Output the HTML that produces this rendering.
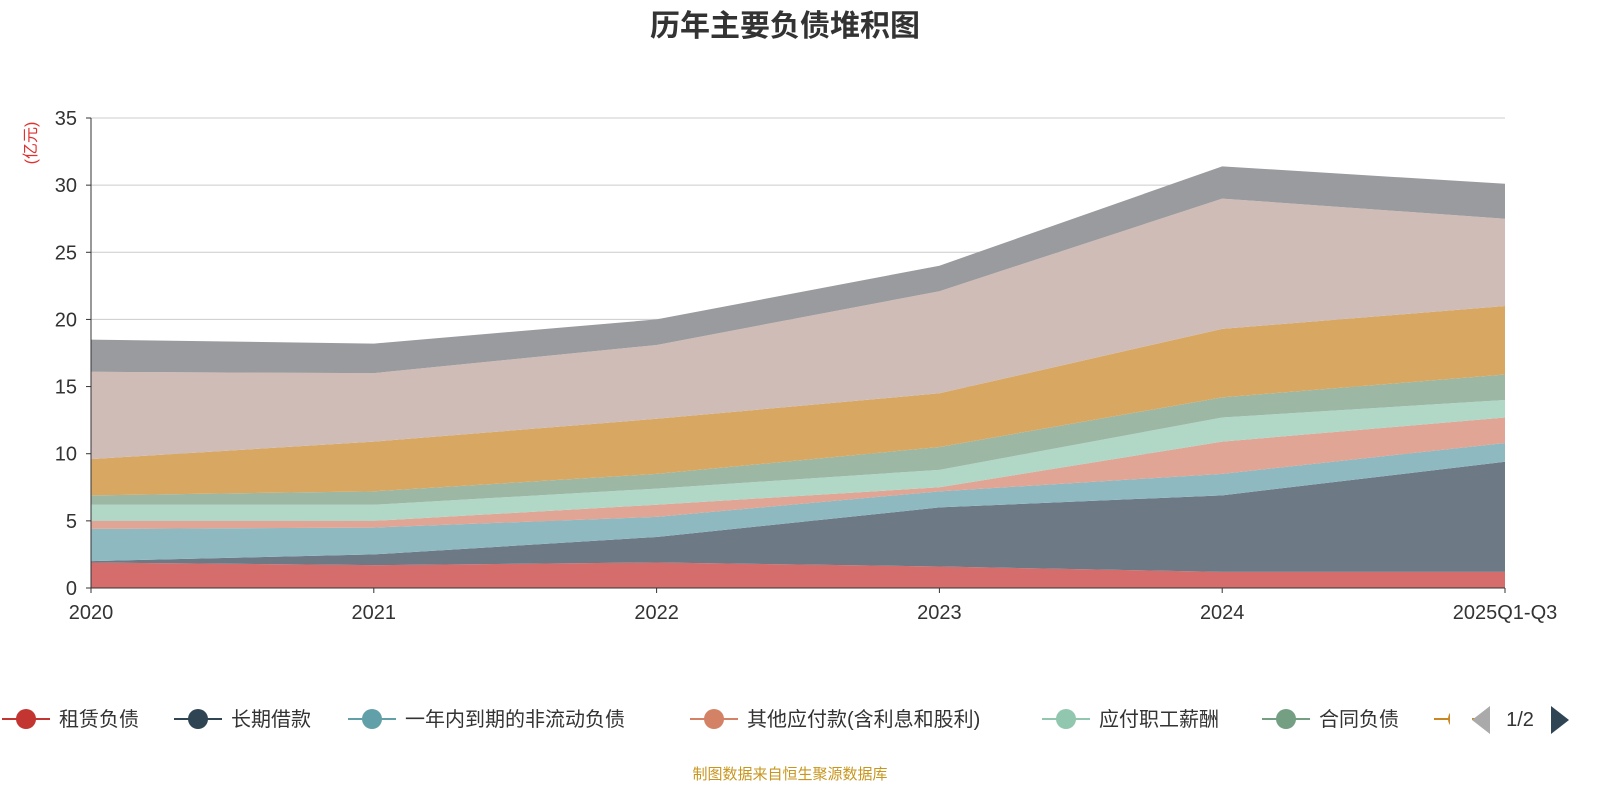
<!DOCTYPE html>
<html><head><meta charset="utf-8"><style>
body{margin:0;background:#fff;width:1600px;height:800px;overflow:hidden;font-family:"Liberation Sans","Noto Sans CJK SC",sans-serif}
</style></head><body>
<svg id="c" width="1600" height="800" xmlns="http://www.w3.org/2000/svg">
<text x="785" y="36" text-anchor="middle" font-size="30" font-weight="bold" fill="#333" font-family="Liberation Sans,Noto Sans CJK SC,sans-serif">历年主要负债堆积图</text>
<text transform="translate(36,143) rotate(-90)" text-anchor="middle" font-size="16" fill="#e03030" font-family="Liberation Sans,Noto Sans CJK SC,sans-serif">(亿元)</text>
<g id="grid"></g><g id="areas"></g><g id="axes"></g><g id="legend"></g>
<text x="790" y="779" text-anchor="middle" font-size="15" fill="#c8961e" font-family="Liberation Sans,Noto Sans CJK SC,sans-serif">制图数据来自恒生聚源数据库</text>
</svg>
<script>
const categories=["2020","2021","2022","2023","2024","2025Q1-Q3"];
const seriesNames=["租赁负债","长期借款","一年内到期的非流动负债","其他应付款(含利息和股利)","应付职工薪酬","合同负债","应付账款","短期借款","其他"];
const s1=[1.9,1.7,1.9,1.6,1.2,1.2];
const s2=[0.1,0.8,1.9,4.4,5.7,8.2];
const s3=[2.4,2.0,1.5,1.2,1.6,1.4];
const s4=[0.6,0.5,0.9,0.3,2.4,1.9];
const s5=[1.2,1.2,1.2,1.3,1.8,1.3];
const s6=[0.7,1.0,1.1,1.7,1.5,1.9];
const s7=[2.7,3.7,4.1,4.0,5.1,5.1];
const s8=[6.5,5.1,5.5,7.6,9.7,6.5];
const s9=[2.4,2.2,1.9,1.9,2.4,2.6];
const yTicks=[0,5,10,15,20,25,30,35];
const series=[s1,s2,s3,s4,s5,s6,s7,s8,s9];
const fills=["#d46d6b","#6d7a86","#8fb9c1","#e0a594","#b1d7c6","#9cb8a5","#d8a862","#d0bcb7","#9a9b9e"];
const lineCols=["#c23531","#2f4554","#61a0a8","#d48265","#91c7ae","#749f83","#ca8622"];
const NS="http://www.w3.org/2000/svg";
const X0=91,X1=1505,Y0=588,Y1=118,YMAX=35;
const xs=i=>X0+(X1-X0)*i/(categories.length-1);
const ys=v=>Y0-(Y0-Y1)*v/YMAX;
function mk(t,a,p){const e=document.createElementNS(NS,t);for(const k in a)e.setAttribute(k,a[k]);p.appendChild(e);return e;}
const grid=document.getElementById('grid'),axes=document.getElementById('axes'),areas=document.getElementById('areas'),leg=document.getElementById('legend');
yTicks.forEach(v=>{
 if(v>0){const g=mk('line',{x1:X0,x2:X1,y1:ys(v),y2:ys(v),stroke:'#ccc'},grid);
 
 }
 const t=mk('text',{x:X0-14,y:ys(v)+7,'text-anchor':'end','font-size':20,fill:'#333'},axes);t.textContent=v;
 
 
 mk('line',{x1:X0-5,x2:X0,y1:ys(v),y2:ys(v),stroke:'#333'},axes);
});
let base=categories.map(()=>0);
series.forEach((s,k)=>{
 const top=s.map((v,i)=>base[i]+v);
 let d='M'+categories.map((c,i)=>xs(i)+','+ys(top[i])).join(' L');
 for(let i=categories.length-1;i>=0;i--)d+=' L'+xs(i)+','+ys(base[i]);
 const p=mk('path',{d:d+'Z',fill:fills[k]},areas);
 
 
 base=top;
});
mk('line',{x1:X0,x2:X0,y1:Y1,y2:Y0,stroke:'#333'},axes);
mk('line',{x1:X0,x2:X1,y1:Y0,y2:Y0,stroke:'#333'},axes);
categories.forEach((c,i)=>{
 mk('line',{x1:xs(i),x2:xs(i),y1:Y0,y2:Y0+5,stroke:'#333'},axes);
 const t=mk('text',{x:xs(i),y:Y0+31,'text-anchor':'middle','font-size':20,fill:'#333'},axes);t.textContent=c;
 
 
});
const lx=[2,174,348,690,1042,1262,1434];
lx.forEach((x,k)=>{
 const g=mk('g',{},leg);
 
 
 mk('line',{x1:x,x2:x+48,y1:719,y2:719,stroke:lineCols[k],'stroke-width':2},g);
 mk('circle',{cx:x+24,cy:719,r:10,fill:lineCols[k]},g);
 if(k<6){const t=mk('text',{x:x+57,y:726,'font-size':20,fill:'#333'},g);t.textContent=seriesNames[k];}
});
mk('rect',{x:1450,y:700,width:22,height:40,fill:'#fff'},leg);
const pl=mk('path',{d:'M1490,706 L1472,720 L1490,734Z',fill:'#aaa'},leg);


const pt=mk('text',{x:1520,y:726,'text-anchor':'middle','font-size':20,fill:'#333'},leg);pt.textContent='1/2';


const pn=mk('path',{d:'M1551,706 L1569,720 L1551,734Z',fill:'#2f4554'},leg);


</script>
</body></html>
